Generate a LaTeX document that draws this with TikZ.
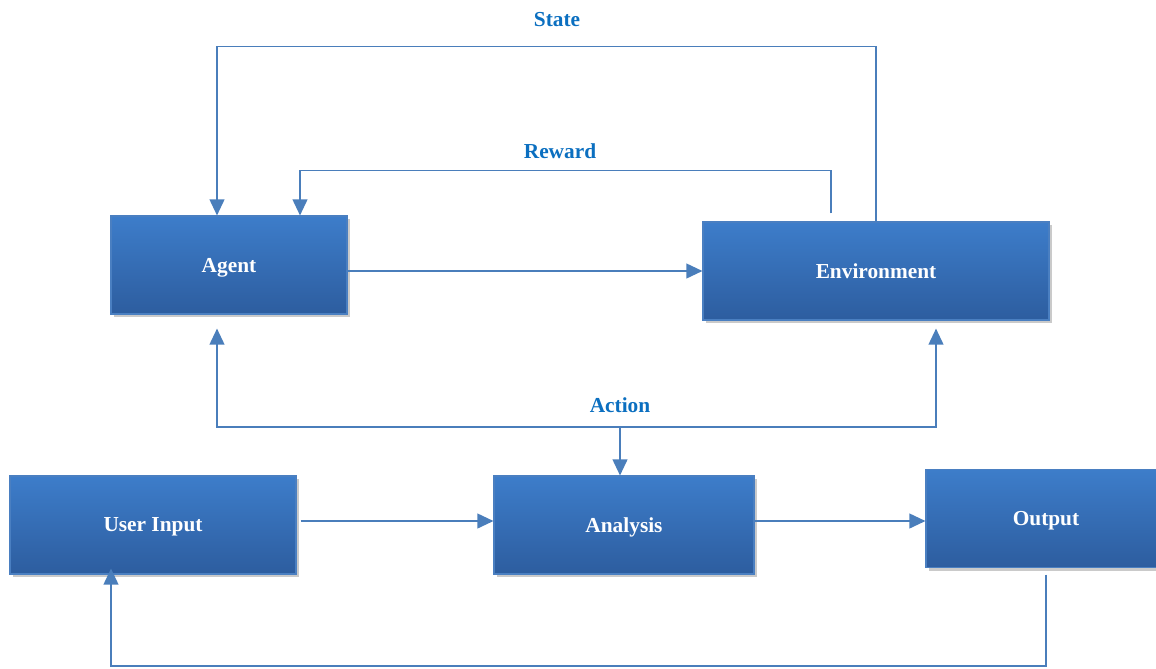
\documentclass[tikz,border=0pt]{standalone}
\usepackage{fontspec}
\setmainfont{Liberation Serif}
\usepackage{tikz}
\usetikzlibrary{arrows.meta,shadows}

\definecolor{boxtop}{HTML}{3D7DCA}
\definecolor{boxbot}{HTML}{2D5D9F}
\definecolor{boxline}{HTML}{4A7FC1}
\definecolor{flow}{HTML}{4A7EBB}
\definecolor{labelblue}{HTML}{0B6FC0}

\tikzset{
  block/.style={draw=boxline, line width=0.8pt,
                top color=boxtop, bottom color=boxbot,
                minimum height=73.5pt, text=white, text depth=0pt,
                font=\bfseries\fontsize{16}{19}\selectfont,
                drop shadow={shadow xshift=2pt,shadow yshift=-2.5pt,
                             opacity=0.35,fill=black!60}},
  flowlabel/.style={text=labelblue,
                    font=\bfseries\fontsize{16}{19}\selectfont}
}

\begin{document}
\begin{tikzpicture}[>={Triangle[width=11pt,length=12pt]},
                    draw=flow, line width=1.4pt,
                    x=0.75pt, y=-0.75pt]

\useasboundingbox (0,0) rectangle (1156,668);

\draw node[block, minimum width=177pt]   (agent) at (229,265)    {Agent}
      node[block, minimum width=259.5pt] (env)   at (876,271)    {Environment}
      node[block, minimum width=214.5pt] (user)  at (153,525)    {User Input}
      node[block, minimum width=195pt]   (ana)   at (624,525)    {Analysis}
      node[block, minimum width=180pt]   (out)   at (1046,518.5) {Output};

\draw node[flowlabel] (state)  at (557,20)  {State}
      node[flowlabel] (reward) at (560,151) {Reward}
      node[flowlabel] (action) at (620,405) {Action};

% feedback loops on top
\draw[->] (env.north) -- ++(0,-175) -| ([xshift=-9pt]agent.north);
\draw[->] ([xshift=-33.75pt,yshift=6pt]env.north) -- ++(0,-43)
          -| ([xshift=53.25pt]agent.north);

\draw[->] (agent.east |- env.west) -- (env.west);

% action split
\coordinate (split) at (620,427);
\draw[->] (split) -- (split |- ana.north);
\draw[->, shorten >=10.5pt] (split) -| ([xshift=-9pt]agent.south);
\draw[->, shorten >=6pt] (split) -| ([xshift=45pt]env.south);

% bottom row
\draw[->] ([xshift=3pt,yshift=3pt]user.east) -- ([yshift=3pt]ana.west);
\draw[->] ([yshift=3pt]ana.east) -- ([yshift=3pt]ana.east -| out.west);
\draw[->, shorten >=-4.5pt] ([yshift=-5pt]out.south) -- ++(0,91)
          -| ([xshift=-31.5pt]user.south);

\end{tikzpicture}
\end{document}
